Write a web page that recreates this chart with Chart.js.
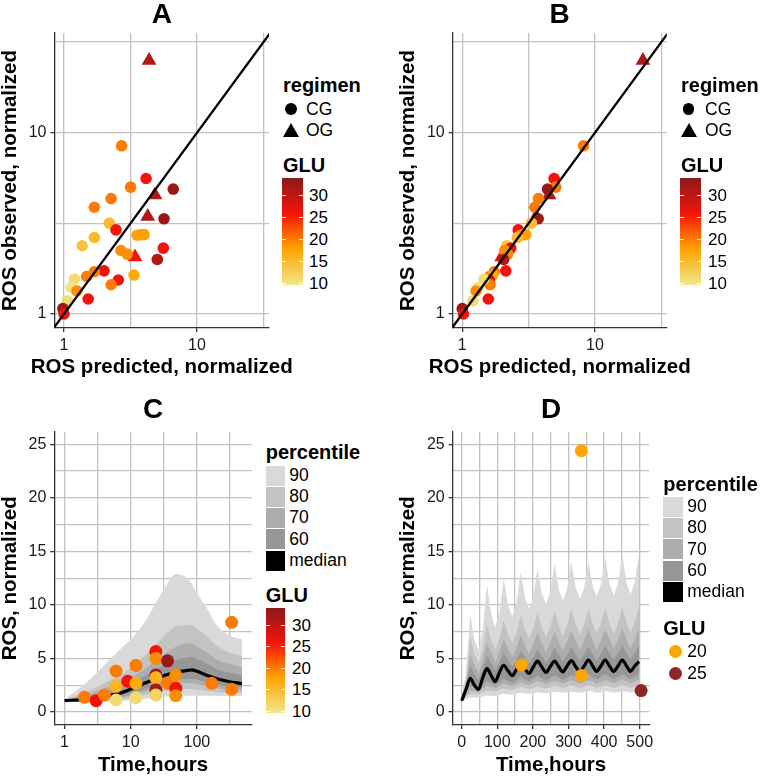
<!DOCTYPE html>
<html><head><meta charset="utf-8">
<script src="https://cdn.jsdelivr.net/npm/chart.js@4.4.1/dist/chart.umd.min.js"></script>
<style>
html,body{margin:0;padding:0;background:#fff;}
#page{position:relative;width:762px;height:778px;overflow:hidden;background:#fff;font-family:"Liberation Sans",Arial,Helvetica,sans-serif;}
canvas{position:absolute;}
.lg{position:absolute;color:#000;white-space:nowrap;line-height:1;}
</style>
</head><body>
<div id="page">
<canvas id="cA" width="280" height="390" style="left:0;top:0"></canvas>
<canvas id="cB" width="382" height="390" style="left:380px;top:0"></canvas>
<canvas id="cC" width="262" height="388" style="left:0;top:390px"></canvas>
<canvas id="cD" width="382" height="388" style="left:380px;top:390px"></canvas>
</div>
<script>
// ================= DATA =================
// Panels A/B: predicted vs observed ROS (normalized), GLU level and regimen per observation
const obsROS   = [8.47, 5.59, 5.01, 4.89, 4.54, 4.33, 3.88, 3.45, 3.35, 3.17, 2.91, 2.72, 2.74, 2.74, 2.64, 2.38, 2.31, 2.24, 2.14, 2.06, 2.0, 1.73, 1.71, 1.61, 1.64, 1.54, 1.45, 1.56, 1.40, 1.34, 1.21, 1.18, 1.07, 1.0, 25.0];
const predA    = [2.71, 4.14, 3.17, 6.63, 4.83, 2.26, 1.69, 4.26, 5.65, 2.19, 2.46, 3.55, 3.8, 4.0, 1.69, 1.37, 5.58, 2.68, 2.99, 3.42, 5.03, 2.0, 1.69, 1.48, 3.36, 2.56, 2.26, 1.2, 1.13, 1.25, 1.52, 1.06, 0.98, 1.0, 4.36];
const predB    = [8.2, 4.92, 5.07, 4.39, 4.51, 3.75, 3.52, 3.6, 3.73, 3.32, 2.64, 2.76, 2.9, 3.0, 2.6, 2.16, 2.32, 2.09, 2.2, 1.98, 2.05, 2.13, 1.74, 1.6, 1.7, 1.6, 1.62, 1.46, 1.32, 1.27, 1.57, 1.2, 1.0, 1.02, 22.96];
const gluAB    = [20, 26, 20, 33, 31, 20, 20, 31, 33, 15, 26, 18, 18, 18, 15, 14, 26, 19, 19, 26, 31, 26, 20, 20, 17, 26, 20, 11, 10, 19, 26, 11, 33, 26, 31];
const regimen  = ['CG','CG','CG','CG','OG','CG','CG','OG','CG','CG','CG','CG','CG','CG','CG','CG','CG','CG','CG','OG','CG','CG','CG','CG','CG','CG','CG','CG','CG','CG','CG','CG','CG','CG','OG'];
const identityLine = [0.5, 50];

// Panel C: simulated percentiles (log time) and observations
const timeC    = [1, 2, 3, 5, 8, 12, 18, 24, 36, 48, 72, 84, 96, 144, 200, 300, 480];
const upper90C = [1.2, 2.6, 3.6, 5.0, 6.2, 7.3, 8.8, 10.2, 12.0, 12.9, 12.5, 12.0, 11.3, 9.6, 8.1, 7.2, 6.8];
const upper80C = [1.15, 1.8, 2.3, 3.0, 3.7, 4.5, 5.5, 6.3, 7.4, 8.0, 8.1, 8.1, 7.9, 7.0, 6.2, 5.6, 5.2];
const upper70C = [1.12, 1.55, 1.9, 2.4, 2.9, 3.5, 4.2, 4.8, 5.6, 6.1, 6.4, 6.4, 6.2, 5.5, 4.9, 4.5, 4.2];
const upper60C = [1.09, 1.4, 1.65, 2.0, 2.45, 2.95, 3.5, 3.95, 4.5, 4.85, 5.1, 5.15, 5.0, 4.5, 4.0, 3.7, 3.45];
const medianC  = [1.06, 1.18, 1.3, 1.55, 1.9, 2.35, 2.8, 3.1, 3.5, 3.72, 3.88, 3.93, 3.85, 3.4, 3.1, 2.85, 2.65];
const lower60C = [1.03, 1.05, 1.12, 1.3, 1.55, 1.9, 2.25, 2.5, 2.85, 3.0, 3.1, 3.1, 3.05, 2.75, 2.55, 2.4, 2.3];
const lower70C = [1.02, 1.0, 1.05, 1.18, 1.38, 1.65, 1.95, 2.15, 2.45, 2.6, 2.7, 2.7, 2.65, 2.4, 2.25, 2.1, 2.05];
const lower80C = [1.01, 0.97, 1.0, 1.08, 1.22, 1.4, 1.65, 1.8, 2.0, 2.1, 2.15, 2.15, 2.1, 1.95, 1.85, 1.8, 1.75];
const lower90C = [1.0, 0.95, 0.95, 0.98, 1.05, 1.12, 1.25, 1.35, 1.45, 1.5, 1.52, 1.52, 1.52, 1.52, 1.5, 1.5, 1.5];
const obsTimeC = [2, 3, 4, 6, 6, 6, 9, 12, 12, 12, 24, 24, 24, 24, 24, 24, 36, 36, 48, 48, 48, 168, 336, 336];
const obsRosC  = [1.37, 1.06, 1.59, 3.83, 2.4, 1.12, 2.87, 4.35, 2.68, 1.33, 5.64, 5.0, 3.46, 3.2, 2.06, 1.59, 4.78, 2.7, 3.46, 2.21, 1.52, 2.68, 2.12, 8.38];
const obsGluC  = [20, 26, 20, 20, 16, 11, 26, 20, 17, 11, 26, 19, 32, 16, 32, 12, 33, 20, 19, 26, 19, 20, 20, 20];

// Panel D: simulated percentiles (linear time, repeated dosing) and observations
const timeD    = [0, 12, 24, 35, 47, 59, 71, 83, 94, 106, 118, 130, 142, 154, 166, 178, 189, 201, 213, 225, 237, 249, 261, 273, 284, 296, 308, 320, 332, 344, 356, 368, 379, 391, 403, 415, 427, 439, 451, 463, 474, 486, 498];
const upper90D = [1.6, 3.5, 9.2, 6.8, 5.8, 7.6, 11.9, 9.1, 7.9, 9.3, 12.5, 10.0, 8.9, 10.2, 13.1, 10.65, 9.6, 10.75, 13.4, 11.1, 10.1, 11.25, 13.9, 11.45, 10.4, 11.5, 14.0, 11.6, 10.6, 11.6, 14.0, 11.75, 10.8, 11.9, 14.5, 12.0, 10.9, 12.05, 14.7, 12.1, 11.0, 12.1, 14.7];
const upper80D = [1.4, 3.0, 7.0, 5.5, 4.5, 5.9, 8.1, 6.7, 5.8, 6.9, 8.6, 7.3, 6.4, 7.4, 9.0, 7.7, 6.8, 7.8, 9.3, 7.9, 7.0, 8.0, 9.4, 8.0, 7.1, 8.1, 9.6, 8.2, 7.2, 8.2, 9.6, 8.3, 7.3, 8.3, 9.7, 8.3, 7.3, 8.3, 9.8, 8.4, 7.4, 8.4, 9.8];
const upper70D = [1.3, 2.6, 5.3, 4.4, 3.6, 4.8, 6.4, 5.6, 4.6, 5.6, 6.9, 5.9, 5.1, 6.0, 7.2, 6.2, 5.4, 6.3, 7.4, 6.4, 5.6, 6.5, 7.5, 6.5, 5.7, 6.6, 7.6, 6.7, 5.8, 6.7, 7.7, 6.7, 5.8, 6.7, 7.7, 6.8, 5.9, 6.8, 7.8, 6.8, 5.9, 6.8, 7.8];
const upper60D = [1.2, 2.3, 4.3, 3.6, 3.0, 4.0, 5.2, 4.6, 3.8, 4.6, 5.5, 4.9, 4.2, 4.9, 5.7, 5.1, 4.5, 5.1, 5.9, 5.2, 4.6, 5.2, 6.0, 5.3, 4.7, 5.3, 6.1, 5.4, 4.8, 5.4, 6.1, 5.4, 4.8, 5.4, 6.2, 5.5, 4.9, 5.5, 6.2, 5.5, 4.9, 5.5, 6.2];
const medianD  = [1.05, 2.1, 3.15, 2.55, 2.1, 3.2, 4.05, 3.4, 2.85, 3.7, 4.35, 3.85, 3.4, 4.0, 4.5, 4.0, 3.6, 4.2, 4.75, 4.2, 3.7, 4.25, 4.75, 4.2, 3.75, 4.3, 4.8, 4.25, 3.8, 4.3, 4.85, 4.3, 3.8, 4.3, 4.85, 4.3, 3.8, 4.3, 4.85, 4.3, 3.8, 4.3, 4.7];
const lower60D = [1.04, 1.95, 2.45, 2.25, 1.95, 2.55, 2.9, 2.7, 2.5, 2.8, 3.1, 2.9, 2.7, 3.0, 3.3, 3.05, 2.85, 3.1, 3.4, 3.15, 2.95, 3.15, 3.45, 3.2, 3.0, 3.2, 3.5, 3.25, 3.05, 3.25, 3.5, 3.25, 3.05, 3.25, 3.55, 3.3, 3.1, 3.3, 3.55, 3.3, 3.1, 3.3, 3.55];
const lower70D = [1.03, 1.7, 2.05, 1.95, 1.8, 2.2, 2.45, 2.35, 2.2, 2.45, 2.65, 2.5, 2.4, 2.6, 2.8, 2.65, 2.5, 2.7, 2.9, 2.75, 2.6, 2.75, 2.95, 2.8, 2.65, 2.8, 3.0, 2.8, 2.65, 2.8, 3.0, 2.85, 2.65, 2.8, 3.0, 2.85, 2.7, 2.85, 3.05, 2.85, 2.7, 2.85, 3.05];
const lower80D = [1.02, 1.45, 1.7, 1.7, 1.6, 1.85, 2.0, 1.95, 1.9, 2.05, 2.2, 2.1, 2.05, 2.2, 2.35, 2.25, 2.15, 2.25, 2.4, 2.3, 2.2, 2.3, 2.45, 2.35, 2.25, 2.35, 2.5, 2.35, 2.25, 2.35, 2.5, 2.4, 2.25, 2.35, 2.5, 2.4, 2.25, 2.35, 2.5, 2.4, 2.25, 2.35, 2.5];
const lower90D = [1.0, 1.2, 1.35, 1.35, 1.35, 1.45, 1.55, 1.5, 1.5, 1.6, 1.7, 1.65, 1.6, 1.7, 1.8, 1.75, 1.7, 1.75, 1.85, 1.8, 1.75, 1.8, 1.9, 1.85, 1.8, 1.85, 1.9, 1.85, 1.8, 1.85, 1.95, 1.9, 1.8, 1.85, 1.95, 1.9, 1.8, 1.85, 1.95, 1.9, 1.8, 1.85, 1.95];
const obsTimeD = [168, 336, 336, 504];
const obsRosD  = [4.4, 3.4, 24.4, 2.0];
const obsGluD  = [20, 20, 20, 25];

// Tick values / labels
const ticksLogAB   = [1, 3.1623, 10, 31.623];
const labelsLogAB  = [1, 10];
const ticksLogC    = [1, 3.1623, 10, 31.623, 100, 316.23];
const labelsLogC   = [1, 10, 100];
const ticksRos     = [0, 2.5, 5, 7.5, 10, 12.5, 15, 17.5, 20, 22.5, 25];
const labelsRos    = [0, 5, 10, 15, 20, 25];
const ticksTimeD   = [0, 50, 100, 150, 200, 250, 300, 350, 400, 450, 500];
const labelsTimeD  = [0, 100, 200, 300, 400, 500];
const percentiles  = ['90', '80', '70', '60', 'median'];
const gluBreaks    = [30, 25, 20, 15, 10];
const gluLevelsD   = [20, 25];
const gluRange     = [9.6, 33.9];

// ================= STYLE =================
const FONT = '"Liberation Sans", Arial, Helvetica, sans-serif';
Chart.defaults.font.family = FONT;
Chart.defaults.color = '#1a1a1a';
const bandFill = {'90':'#d9d9d9','80':'#c3c3c3','70':'#adadad','60':'#979797','median':'#000000'};
const gluStops = [[0,[240,230,140]],[1/3,[255,165,0]],[2/3,[245,20,10]],[1,[140,26,26]]];
const gluDColors = {20:'#FFA500', 25:'#8E2626'};

function gluColor(g){
  let t = (g - gluRange[0]) / (gluRange[1] - gluRange[0]);
  t = Math.max(0, Math.min(1, t));
  for (let i = 1; i < gluStops.length; i++) {
    if (t <= gluStops[i][0]) {
      const a = gluStops[i-1], b = gluStops[i];
      const f = (t - a[0]) / (b[0] - a[0]);
      const c = a[1].map((v, k) => Math.round(v + (b[1][k] - v) * f));
      return 'rgb(' + c.join(',') + ')';
    }
  }
  return 'rgb(' + gluStops[gluStops.length-1][1].join(',') + ')';
}

function axis(o){
  return {
    type: o.type, min: o.min, max: o.max,
    grid: {color:'#c2c2c2', lineWidth:1.3, drawTicks:true, tickLength:4, tickWidth:1.3,
      tickColor: c => (c.tick && o.major.includes(c.tick.value)) ? '#333333' : 'rgba(0,0,0,0)'},
    border: {display:true, color:'#333333', width:1.3},
    ticks: {color:'#1a1a1a', font:{size:16, lineHeight:1.2}, padding:4, autoSkip:false, maxRotation:0, minRotation:0,
      callback: v => o.major.includes(v) ? String(v) : ''},
    title: {display: o.title !== null, text:o.title || '', color:'#000', font:{size:20.5, weight:'bold', lineHeight:1}, padding:o.tpad},
    afterBuildTicks: s => { s.ticks = o.ticks.map(v => ({value:v})); },
    afterFit: s => { if (o.w !== undefined) s.width = o.w; if (o.h !== undefined) s.height = o.h; }
  };
}

function basePlugins(title, tpad){
  return {
    title: {display:true, text:title, fullSize:false, color:'#000', font:{size:28, weight:'bold', lineHeight:1.1}, padding:tpad},
    legend: {display:false}, tooltip: {enabled:false}
  };
}

// ================= PANELS A & B =================
function scatterPanel(id, title, pred, xmin, xmax, yw, rpad, ytpad){
  const idxC = [], idxO = [];
  regimen.forEach((r, i) => (r === 'CG' ? idxC : idxO).push(i));
  return new Chart(document.getElementById(id), {
    type: 'scatter',
    data: {datasets: [
      {data: identityLine.map(v => ({x:v, y:v})), showLine:true, borderColor:'#000', borderWidth:2.3, pointRadius:0, clip:0, order:0},
      {data: idxC.map(i => ({x:pred[i], y:obsROS[i]})), backgroundColor: idxC.map(i => gluColor(gluAB[i])),
       pointRadius:5.8, borderWidth:0, pointStyle:'circle', order:1},
      {data: idxO.map(i => ({x:pred[i], y:obsROS[i]})), backgroundColor: idxO.map(i => gluColor(gluAB[i])),
       pointRadius:8.5, borderWidth:0, pointStyle:'triangle', order:1}
    ]},
    options: {
      responsive:false, animation:false, devicePixelRatio:1,
      layout: {padding:{left:0, top:0, right:rpad, bottom:0}},
      plugins: basePlugins(title, {top:0, bottom:2.2}),
      scales: {
        // x-axis title is drawn as HTML below (canvas titles get squeezed to the plot width)
        x: axis({type:'logarithmic', min:xmin, max:xmax, ticks:ticksLogAB, major:labelsLogAB, title:null, tpad:0, h:62}),
        y: axis({type:'logarithmic', min:0.837, max:35.5, ticks:ticksLogAB, major:labelsLogAB, title:'ROS observed, normalized', tpad:{top:ytpad,bottom:0}, w:yw})
      }
    }
  });
}
const chartA = scatterPanel('cA', 'A', predA, 0.848, 34.8, 54.5, 11, 0);
const chartB = scatterPanel('cB', 'B', predB, 0.847, 34.7, 72.7, 95.3, 18);

// ================= PANELS C & D =================
function bandSets(t, up, lo, key, ord, tension){
  return [
    {data: t.map((x,i)=>({x, y:up[i]})), showLine:true, borderWidth:0, borderColor:'rgba(0,0,0,0)', pointRadius:0,
     backgroundColor:bandFill[key], fill:'+1', order:ord, tension:tension, cubicInterpolationMode: tension ? 'monotone' : 'default'},
    {data: t.map((x,i)=>({x, y:lo[i]})), showLine:true, borderWidth:0, borderColor:'rgba(0,0,0,0)', pointRadius:0,
     fill:false, order:ord, tension:tension, cubicInterpolationMode: tension ? 'monotone' : 'default'}
  ];
}

function timePanel(id, title, cfg){
  const ds = [
    {data: cfg.obsT.map((x,i)=>({x, y:cfg.obsY[i]})), backgroundColor: cfg.obsG.map(cfg.colorFn),
     pointRadius:6.5, borderWidth:0, order:0},
    {data: cfg.t.map((x,i)=>({x, y:cfg.med[i]})), showLine:true, borderColor:'#000', borderWidth:3.2, pointRadius:0,
     fill:false, order:1, cubicInterpolationMode:'monotone'}
  ].concat(
    bandSets(cfg.t, cfg.u60, cfg.l60, '60', 2, cfg.tension),
    bandSets(cfg.t, cfg.u70, cfg.l70, '70', 3, cfg.tension),
    bandSets(cfg.t, cfg.u80, cfg.l80, '80', 4, cfg.tension),
    bandSets(cfg.t, cfg.u90, cfg.l90, '90', 5, cfg.tension)
  );
  return new Chart(document.getElementById(id), {
    type:'scatter',
    data:{datasets: ds},
    options:{
      responsive:false, animation:false, devicePixelRatio:1,
      layout:{padding:{left:0, top:0, right:cfg.rpad, bottom:0}},
      plugins: Object.assign(basePlugins(title, {top:5, bottom:5.9}), {filler:{propagate:false}}),
      scales:{
        x: axis(Object.assign({title:'Time,hours', tpad:{top:0,bottom:2.8}, h:53}, cfg.xax)),
        y: axis({type:'linear', min:-1.214, max:26.18, ticks:ticksRos, major:labelsRos, title:'ROS, normalized', tpad:{top:cfg.ytpad,bottom:0}, w:cfg.yw})
      }
    }
  });
}

timePanel('cC', 'C', {
  t:timeC, med:medianC, u60:upper60C, l60:lower60C, u70:upper70C, l70:lower70C, u80:upper80C, l80:lower80C, u90:upper90C, l90:lower90C,
  obsT:obsTimeC, obsY:obsRosC, obsG:obsGluC, colorFn:gluColor, tension:0.4, rpad:262-251.7, yw:54.3, ytpad:0,
  xax:{type:'logarithmic', min:0.714, max:674, ticks:ticksLogC, major:labelsLogC}
});
timePanel('cD', 'D', {
  t:timeD, med:medianD, u60:upper60D, l60:lower60D, u70:upper70D, l70:lower70D, u80:upper80D, l80:lower80D, u90:upper90D, l90:lower90D,
  obsT:obsTimeD, obsY:obsRosD, obsG:obsGluD, colorFn:g => gluDColors[g], tension:0, rpad:382-269.3, yw:72.7, ytpad:18,
  xax:{type:'linear', min:-25.3, max:527, ticks:ticksTimeD, major:labelsTimeD}
});

// ================= LEGENDS / X TITLES (HTML) =================
const page = document.getElementById('page');
function txt(s, x, cy, size, bold){
  const d = document.createElement('div'); d.className = 'lg'; d.textContent = s;
  d.style.left = x + 'px'; d.style.top = (cy - size * 0.5) + 'px'; d.style.fontSize = size + 'px';
  if (bold) d.style.fontWeight = 'bold';
  page.appendChild(d); return d;
}
function ctxt(s, cx, cy, size, bold){
  const d = txt(s, cx - 200, cy, size, bold);
  d.style.width = '400px'; d.style.textAlign = 'center';
}
function box(x, y, w, h, css){
  const d = document.createElement('div'); d.style.position = 'absolute';
  d.style.left = x + 'px'; d.style.top = y + 'px'; d.style.width = w + 'px'; d.style.height = h + 'px';
  Object.assign(d.style, css || {}); page.appendChild(d); return d;
}
function circle(cx, cy, r, col){ box(cx - r, cy - r, 2*r, 2*r, {borderRadius:'50%', background:col}); }
function triangle(cx, cy, w, h, col){
  box(cx - w/2, cy - h/2, 0, 0, {borderLeft:(w/2)+'px solid transparent', borderRight:(w/2)+'px solid transparent', borderBottom:h+'px solid '+col});
}
function colorbar(x, top, w, h, labelX){
  const grad = 'linear-gradient(to top,' + gluStops.map(s => 'rgb(' + s[1].join(',') + ') ' + (s[0]*100).toFixed(1) + '%').join(',') + ')';
  box(x, top, w, h, {background:grad});
  gluBreaks.forEach(g => {
    const y = top + (gluRange[1] - g) / (gluRange[1] - gluRange[0]) * h;
    box(x, y - 0.5, 4, 1, {background:'rgba(255,255,255,0.9)'});
    box(x + w - 4, y - 0.5, 4, 1, {background:'rgba(255,255,255,0.9)'});
    txt(String(g), labelX, y, 17, false);
  });
}

// x-axis titles for A and B, centred under each plot area
[[chartA, 0], [chartB, 380]].forEach(([ch, off]) => {
  const ca = ch.chartArea;
  ctxt('ROS predicted, normalized', off + (ca.left + ca.right) / 2, 366.7, 20.5, true);
});

function regimenLegend(x, cx, lx){
  txt('regimen', x, 85, 20, true);
  circle(cx, 109, 5.9, '#000'); txt('CG', lx, 109.5, 17.5, false);
  triangle(cx + 1, 129.5, 17, 14, '#000'); txt('OG', lx, 130.5, 17.5, false);
  txt('GLU', x, 165, 20, true);
  colorbar(x - 1, 178, 20.5, 107, lx + 3);
}
regimenLegend(283, 290.8, 306);
regimenLegend(681, 688.5, 705);

function percentileLegend(x, titleCy, centers, labelX){
  txt('percentile', x, titleCy, 20, true);
  percentiles.forEach((p, i) => {
    box(x, centers[i] - 10, 19.5, 20, {background:bandFill[p]});
    txt(p, labelX, centers[i], 17.5, false);
  });
}
percentileLegend(265.7, 451.7, [475.7, 496.9, 518.1, 539.3, 560.5], 289.3);
txt('GLU', 265.7, 595, 20, true);
colorbar(265.7, 608.3, 19.5, 105, 292);

percentileLegend(663.3, 484.3, [506.7, 528, 549.3, 570.6, 591.9], 687.3);
txt('GLU', 663.3, 627.7, 20, true);
gluLevelsD.forEach((g, i) => {
  const cy = 651.7 + i * 21.6;
  circle(675, cy, 6.5, gluDColors[g]);
  txt(String(g), 687.3, cy, 17.5, false);
});
</script>
</body></html>
